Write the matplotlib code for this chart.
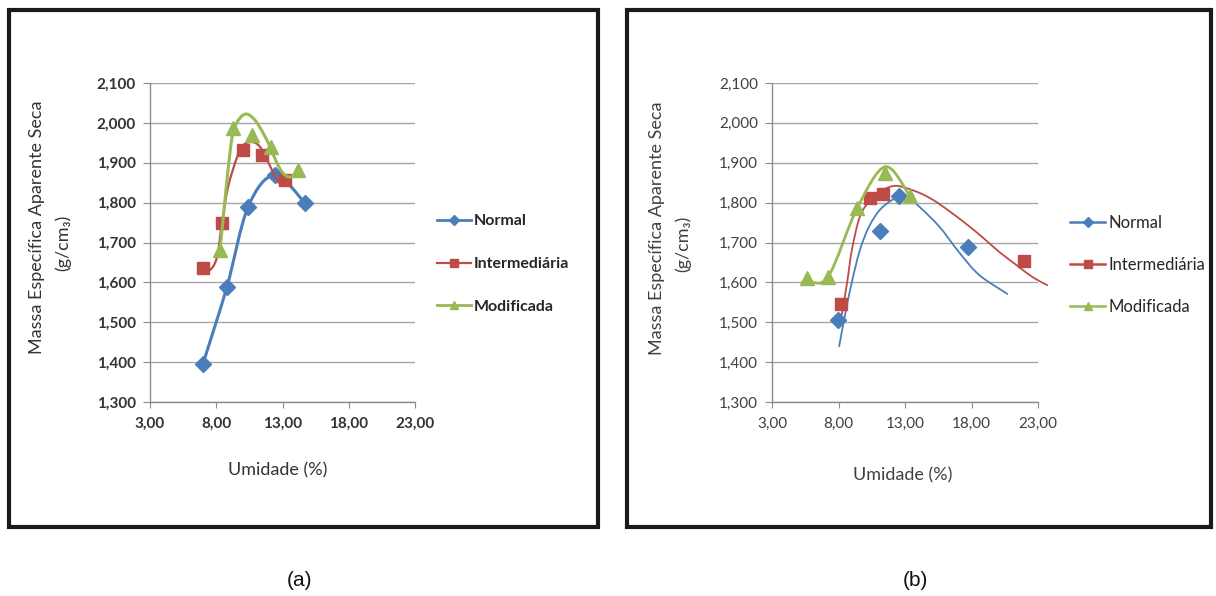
import numpy as np
import matplotlib.pyplot as plt
from matplotlib.path import Path
from matplotlib.patches import PathPatch, Rectangle
from matplotlib.lines import Line2D
from matplotlib.ticker import FuncFormatter

plt.rcParams["font.family"] = ["Lato", "DejaVu Sans"]

W, H = 1216, 596

BLUE = "#4a7ebb"
RED = "#be4b48"
GREEN = "#98b954"

# (a) pontos (Umidade %, massa especifica g/cm3)
A_NORMAL_X = [7.0, 8.8, 10.4, 12.4, 14.7]
A_NORMAL_Y = [1.396, 1.588, 1.789, 1.869, 1.799]
A_INTER_X = [7.0, 8.4, 10.0, 11.45, 13.2]
A_INTER_Y = [1.636, 1.749, 1.932, 1.919, 1.857]
A_MOD_X = [8.3, 9.25, 10.7, 12.15, 14.15]
A_MOD_Y = [1.682, 1.987, 1.970, 1.940, 1.882]

# (a) linhas suavizadas
A_INTER_FIT_X = [7.0, 7.53, 8.06, 8.43, 8.89, 9.57, 10.02, 10.7, 11.3, 11.91, 12.58, 13.04, 13.57]
A_INTER_FIT_Y = [1.636, 1.631, 1.664, 1.749, 1.839, 1.914, 1.944, 1.952, 1.94, 1.902, 1.857, 1.844, 1.857]
A_MOD_FIT_X = [8.28, 8.51, 8.89, 9.26, 9.79, 10.32, 10.92, 11.53, 12.06, 12.58, 13.04, 13.57, 14.17]
A_MOD_FIT_Y = [1.681, 1.756, 1.882, 1.975, 2.012, 2.022, 2.007, 1.975, 1.94, 1.899, 1.874, 1.864, 1.877]

# (b) pontos
B_NORMAL_X = [7.95, 11.1, 12.55, 17.7]
B_NORMAL_Y = [1.506, 1.728, 1.817, 1.689]
B_INTER_X = [8.2, 10.4, 11.35, 21.95]
B_INTER_Y = [1.546, 1.812, 1.822, 1.654]
B_MOD_X = [5.6, 7.2, 9.4, 11.5, 13.4]
B_MOD_Y = [1.611, 1.613, 1.786, 1.875, 1.817]

# (b) linhas de tendencia
B_NORMAL_FIT_X = [8.05, 8.5, 9.0, 9.6, 10.3, 11.2, 12.4, 13.2, 14.1, 15.6, 17.1, 18.6, 20.7]
B_NORMAL_FIT_Y = [1.44, 1.52, 1.60, 1.68, 1.74, 1.785, 1.813, 1.812, 1.789, 1.739, 1.674, 1.618, 1.571]
B_INTER_FIT_X = [8.25, 8.65, 9.0, 9.6, 10.4, 11.35, 12.4, 13.9, 15.1, 16.4, 17.7, 18.9, 20.1, 21.4, 22.6, 23.7]
B_INTER_FIT_Y = [1.52, 1.60, 1.68, 1.764, 1.807, 1.832, 1.842, 1.827, 1.807, 1.777, 1.744, 1.711,
                 1.676, 1.643, 1.613, 1.593]
B_MOD_FIT_X = [5.3, 5.6, 7.2, 9.4, 11.5, 13.3]
B_MOD_FIT_Y = [1.60, 1.605, 1.613, 1.786, 1.89, 1.82]

X_TICKS = [3, 8, 13, 18, 23]
Y_TICKS = [1.3, 1.4, 1.5, 1.6, 1.7, 1.8, 1.9, 2.0, 2.1]
LABELS = ["Normal", "Intermediária", "Modificada"]


def smooth_path(x, y):
    # Bezier suave estilo Excel (Catmull-Rom)
    pts = np.column_stack([x, y]).astype(float)
    n = len(pts)
    verts = [pts[0]]
    codes = [Path.MOVETO]
    for i in range(n - 1):
        p0 = pts[max(i - 1, 0)]
        p1 = pts[i]
        p2 = pts[i + 1]
        p3 = pts[min(i + 2, n - 1)]
        verts += [p1 + (p2 - p0) / 6, p2 - (p3 - p1) / 6, p2]
        codes += [Path.CURVE4] * 3
    return Path(verts, codes)


def draw_curve(ax, x, y, color, lw, z, clip=True):
    patch = PathPatch(smooth_path(x, y), fill=False, edgecolor=color, linewidth=lw,
                      capstyle="round", joinstyle="round", zorder=z)
    ax.add_patch(patch)
    patch.set_clip_on(clip)


def style_axes(ax, weight, tcolor):
    ax.set_xlim(3, 23)
    ax.set_ylim(1.3, 2.1)
    ax.set_xticks(X_TICKS)
    ax.set_yticks(Y_TICKS)
    ax.xaxis.set_major_formatter(FuncFormatter(lambda v, p: f"{v:.2f}".replace(".", ",")))
    ax.yaxis.set_major_formatter(FuncFormatter(lambda v, p: f"{v:.3f}".replace(".", ",")))
    ax.grid(axis="y", color="#a6a6a6", linewidth=1.0)
    ax.set_axisbelow(True)
    for s in ["top", "right"]:
        ax.spines[s].set_visible(False)
    for s in ["left", "bottom"]:
        ax.spines[s].set_color("#8c8c8c")
        ax.spines[s].set_linewidth(1.0)
    ax.tick_params(axis="y", direction="out", length=5, color="#8c8c8c", pad=5,
                   labelsize=11, labelcolor=tcolor)
    ax.tick_params(axis="x", direction="out", length=4, color="#8c8c8c", pad=7,
                   labelsize=11, labelcolor=tcolor)
    for t in ax.get_xticklabels() + ax.get_yticklabels():
        t.set_fontweight(weight)


def add_legend(fig, ax, x0, yc, weight, size, spacing, lws):
    handles = [
        Line2D([], [], color=BLUE, lw=lws[0], marker="D", ms=5),
        Line2D([], [], color=RED, lw=lws[1], marker="s", ms=6),
        Line2D([], [], color=GREEN, lw=lws[2], marker="^", ms=6),
    ]
    leg = ax.legend(handles, LABELS, loc="center left", bbox_to_anchor=(x0 / W, 1 - yc / H),
                    bbox_transform=fig.transFigure, frameon=False, borderpad=0,
                    borderaxespad=0, handlelength=2.1, handletextpad=0.2,
                    labelspacing=spacing, prop={"size": size, "weight": weight})
    for t in leg.get_texts():
        t.set_color("#262626")


fig = plt.figure(figsize=(W / 100, H / 100), dpi=100)

ax_a = fig.add_axes([150 / W, 1 - 402 / H, 265 / W, 319 / H])
ax_b = fig.add_axes([772 / W, 1 - 402 / H, 266 / W, 319 / H])

# painel (a)
style_axes(ax_a, "bold", "#333333")
draw_curve(ax_a, A_NORMAL_X, A_NORMAL_Y, BLUE, 2.2, 2.0)
ax_a.plot(A_NORMAL_X, A_NORMAL_Y, ls="none", marker="D", ms=8, color=BLUE, zorder=2.1)
draw_curve(ax_a, A_INTER_FIT_X, A_INTER_FIT_Y, RED, 1.6, 2.2)
ax_a.plot(A_INTER_X, A_INTER_Y, ls="none", marker="s", ms=9, color=RED, zorder=2.3)
draw_curve(ax_a, A_MOD_FIT_X, A_MOD_FIT_Y, GREEN, 2.2, 2.4)
ax_a.plot(A_MOD_X, A_MOD_Y, ls="none", marker="^", ms=9.5, color=GREEN, zorder=2.5)
add_legend(fig, ax_a, 437, 264, "bold", 11.5, 1.8, [2.0, 1.6, 2.0])

# painel (b)
style_axes(ax_b, "normal", "#404040")
draw_curve(ax_b, B_NORMAL_FIT_X, B_NORMAL_FIT_Y, BLUE, 1.3, 2.0)
ax_b.plot(B_NORMAL_X, B_NORMAL_Y, ls="none", marker="D", ms=8, color=BLUE, zorder=2.1)
draw_curve(ax_b, B_INTER_FIT_X, B_INTER_FIT_Y, RED, 1.3, 2.2, clip=False)
ax_b.plot(B_INTER_X, B_INTER_Y, ls="none", marker="s", ms=9, color=RED, zorder=2.3)
draw_curve(ax_b, B_MOD_FIT_X, B_MOD_FIT_Y, GREEN, 2.0, 2.4)
ax_b.plot(B_MOD_X, B_MOD_Y, ls="none", marker="^", ms=9.5, color=GREEN, zorder=2.5)
add_legend(fig, ax_b, 1070, 265, "normal", 12, 1.55, [1.8, 1.8, 1.8])

# rotulos dos eixos
for xl, xl2, yl, tcolor in [(37, 63, 227, "#333333"), (657, 683, 228, "#404040")]:
    fig.text(xl / W, 1 - yl / H, "Massa Específica Aparente Seca", rotation=90,
             ha="center", va="center", fontsize=13, color=tcolor)
    fig.text(xl2 / W, 1 - (yl + 16) / H, "(g/cm₃)", rotation=90,
             ha="center", va="center", fontsize=13, color=tcolor)

fig.text(278 / W, 1 - 470 / H, "Umidade (%)", ha="center", va="center",
         fontsize=13, color="#333333")
fig.text(903 / W, 1 - 475 / H, "Umidade (%)", ha="center", va="center",
         fontsize=13, color="#404040")

# molduras
for x0, x1 in [(9, 598), (627, 1211)]:
    fig.add_artist(Rectangle((x0 / W, 1 - 527 / H), (x1 - x0) / W, (527 - 10) / H,
                             transform=fig.transFigure, fill=False, linewidth=3,
                             edgecolor="#1a1a1a"))

fig.text(300 / W, 1 - 580 / H, "(a)", ha="center", va="center", fontsize=15,
         family="Liberation Sans", color="#111111")
fig.text(915 / W, 1 - 580 / H, "(b)", ha="center", va="center", fontsize=15,
         family="Liberation Sans", color="#111111")

fig.savefig("out.png", dpi=100)
plt.close(fig)
